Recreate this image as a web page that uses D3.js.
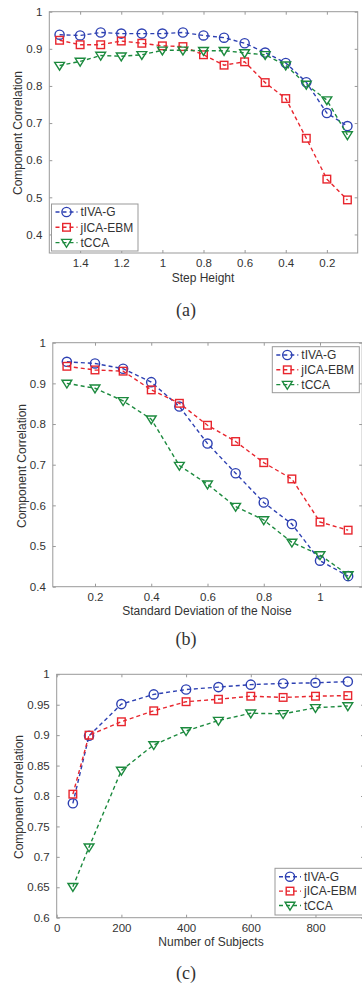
<!DOCTYPE html>
<html><head><meta charset="utf-8">
<script src="https://cdn.jsdelivr.net/npm/d3@7/dist/d3.min.js"></script>
<style>
html,body{margin:0;padding:0;background:#fff;}
svg{display:block;}
text{font-family:"Liberation Sans",Arial,sans-serif;fill:#333;}
</style></head>
<body>
<svg id="chart" width="362" height="989"></svg>
<script>
const seriesNames = ["tIVA-G", "jICA-EBM", "tCCA"];

// Panel (a): Step Height
const stepHeight = [1.5,1.4,1.3,1.2,1.1,1.0,0.9,0.8,0.7,0.6,0.5,0.4,0.3,0.2,0.1];
const a_tIVA = [0.938,0.936,0.944,0.941,0.941,0.941,0.944,0.936,0.930,0.915,0.890,0.862,0.810,0.727,0.692];
const a_jICA = [0.923,0.911,0.911,0.921,0.915,0.908,0.906,0.884,0.856,0.865,0.809,0.766,0.659,0.549,0.493];
const a_tCCA = [0.855,0.866,0.882,0.880,0.884,0.896,0.896,0.895,0.895,0.889,0.884,0.856,0.804,0.762,0.668];
const a_xTicks = [1.4,1.2,1,0.8,0.6,0.4,0.2];
const a_yTicks = [0.4,0.5,0.6,0.7,0.8,0.9,1];

// Panel (b): Standard Deviation of the Noise
const noiseSD = [0.1,0.2,0.3,0.4,0.5,0.6,0.7,0.8,0.9,1.0,1.1];
const b_tIVA = [0.953,0.949,0.936,0.903,0.843,0.752,0.679,0.607,0.554,0.464,0.426];
const b_jICA = [0.942,0.933,0.930,0.884,0.851,0.797,0.757,0.705,0.665,0.559,0.539];
const b_tCCA = [0.900,0.888,0.857,0.812,0.698,0.652,0.597,0.564,0.509,0.478,0.429];
const b_xTicks = [0.2,0.4,0.6,0.8,1];
const b_yTicks = [0.4,0.5,0.6,0.7,0.8,0.9,1];

// Panel (c): Number of Subjects
const subjects = [50,100,200,300,400,500,600,700,800,900];
const c_tIVA = [0.788,0.899,0.951,0.967,0.975,0.979,0.983,0.985,0.986,0.988];
const c_jICA = [0.803,0.900,0.922,0.940,0.955,0.959,0.964,0.962,0.964,0.965];
const c_tCCA = [0.651,0.716,0.842,0.884,0.907,0.924,0.936,0.935,0.945,0.948];
const c_xTicks = [0,200,400,600,800];
const c_yTicks = [0.6,0.65,0.7,0.75,0.8,0.85,0.9,0.95,1];

const colors = ["#2d40b2", "#e8262e", "#1c8a3e"];
const shapes = ["circle", "square", "triangle"];
const FS = 11.5;

const svg = d3.select("#chart");

function marker(g, shape, color, x, y) {
  if (shape === "circle") {
    g.append("circle").attr("cx", x).attr("cy", y).attr("r", 4.6)
      .attr("fill", "none").attr("stroke", color).attr("stroke-width", 1.4);
  } else if (shape === "square") {
    g.append("rect").attr("x", x - 3.8).attr("y", y - 3.8).attr("width", 7.6).attr("height", 7.6)
      .attr("fill", "none").attr("stroke", color).attr("stroke-width", 1.4);
  } else {
    const s = 4.9;
    g.append("path").attr("d", `M${x - s},${y - s * 0.65}L${x + s},${y - s * 0.65}L${x},${y + s * 0.95}Z`)
      .attr("fill", "none").attr("stroke", color).attr("stroke-width", 1.4);
  }
}

function panel(cfg) {
  const x = d3.scaleLinear().domain(cfg.xDomain).range([cfg.left, cfg.right]);
  const y = d3.scaleLinear().domain(cfg.yDomain).range([cfg.bottom, cfg.top]);
  const g = svg.append("g");

  // box
  g.append("rect").attr("x", cfg.left).attr("y", cfg.top)
    .attr("width", cfg.right - cfg.left).attr("height", cfg.bottom - cfg.top)
    .attr("fill", "none").attr("stroke", "#999").attr("stroke-width", 1);

  // axes with inward ticks
  const fmt = cfg.fmt;
  const xb = g.append("g").attr("transform", `translate(0,${cfg.bottom})`)
    .call(d3.axisBottom(x).tickValues(cfg.xTicks).tickSize(-3).tickPadding(6).tickFormat(fmt));
  const xt = g.append("g").attr("transform", `translate(0,${cfg.top})`)
    .call(d3.axisTop(x).tickValues(cfg.xTicks).tickSize(-3).tickFormat(""));
  const yl = g.append("g").attr("transform", `translate(${cfg.left},0)`)
    .call(d3.axisLeft(y).tickValues(cfg.yTicks).tickSize(-3).tickPadding(7).tickFormat(fmt));
  const yr = g.append("g").attr("transform", `translate(${cfg.right},0)`)
    .call(d3.axisRight(y).tickValues(cfg.yTicks).tickSize(-3).tickFormat(""));
  [xb, xt, yl, yr].forEach(a => {
    a.select(".domain").remove();
    a.selectAll(".tick line").attr("stroke", "#999");
    a.selectAll("text").attr("font-size", FS).attr("fill", "#333")
      .attr("font-family", '"Liberation Sans",Arial,sans-serif');
  });

  // series
  cfg.series.forEach((vals, i) => {
    const pts = cfg.xs.map((xv, k) => [x(xv), y(vals[k])]);
    g.append("path").attr("d", d3.line()(pts)).attr("fill", "none")
      .attr("stroke", colors[i]).attr("stroke-width", 1.4).attr("stroke-dasharray", "4,3");
    const mg = g.append("g");
    pts.forEach(p => marker(mg, shapes[i], colors[i], p[0], p[1]));
  });

  // labels
  g.append("text").attr("x", cfg.xLabelX).attr("y", cfg.xLabelY).attr("text-anchor", "middle")
    .attr("font-size", FS + 0.5).text(cfg.xLabel);
  g.append("text").attr("transform", `translate(${cfg.yLabelX},${cfg.yLabelY}) rotate(-90)`)
    .attr("text-anchor", "middle").attr("font-size", FS + 0.5).text("Component Correlation");
  g.append("text").attr("x", 186).attr("y", cfg.capY).attr("text-anchor", "middle")
    .attr("font-size", 18).style("font-family", '"Liberation Serif","Times New Roman",serif')
    .attr("fill", "#222").text(cfg.caption);

  // legend
  const L = cfg.legend;
  g.append("rect").attr("x", L.x).attr("y", L.y).attr("width", L.w).attr("height", L.h)
    .attr("fill", "#fff").attr("stroke", "#999").attr("stroke-width", 1);
  seriesNames.forEach((name, i) => {
    const yy = L.y + L.first + i * L.step;
    g.append("line").attr("x1", L.x + 4).attr("x2", L.x + 26).attr("y1", yy).attr("y2", yy)
      .attr("stroke", colors[i]).attr("stroke-width", 1.4).attr("stroke-dasharray", "4,3");
    marker(g, shapes[i], colors[i], L.x + 15, yy);
    g.append("text").attr("x", L.x + 29).attr("y", yy).attr("dy", "0.36em")
      .attr("font-size", FS + 0.5).text(name);
  });
}

panel({
  xDomain: [1.55, 0.05], yDomain: [0.35, 1], left: 49.3, right: 357.7, top: 11.7, bottom: 253,
  xs: stepHeight, series: [a_tIVA, a_jICA, a_tCCA], xTicks: a_xTicks, yTicks: a_yTicks,
  fmt: d3.format("~g"), xLabel: "Step Height", xLabelX: 203, xLabelY: 281.5,
  yLabelX: 22, yLabelY: 133, caption: "(a)", capY: 316,
  legend: {x: 51.5, y: 204, w: 86.5, h: 47, first: 8, step: 15.3}
});
panel({
  xDomain: [0.05, 1.15], yDomain: [0.4, 1], left: 52.8, right: 362.2, top: 342.7, bottom: 586.7,
  xs: noiseSD, series: [b_tIVA, b_jICA, b_tCCA], xTicks: b_xTicks, yTicks: b_yTicks,
  fmt: d3.format("~g"), xLabel: "Standard Deviation of the Noise", xLabelX: 207, xLabelY: 614.5,
  yLabelX: 26, yLabelY: 466, caption: "(b)", capY: 645,
  legend: {x: 272.3, y: 346.7, w: 87, h: 46, first: 8.3, step: 14.8}
});
panel({
  xDomain: [0, 950], yDomain: [0.6, 1], left: 56.7, right: 364, top: 674.3, bottom: 917.7,
  xs: subjects, series: [c_tIVA, c_jICA, c_tCCA], xTicks: c_xTicks, yTicks: c_yTicks,
  fmt: d3.format("~g"), xLabel: "Number of Subjects", xLabelX: 211, xLabelY: 945.5,
  yLabelX: 23, yLabelY: 797, caption: "(c)", capY: 979,
  legend: {x: 275, y: 868.3, w: 92, h: 46.7, first: 8.4, step: 14.4}
});
</script>
</body></html>
